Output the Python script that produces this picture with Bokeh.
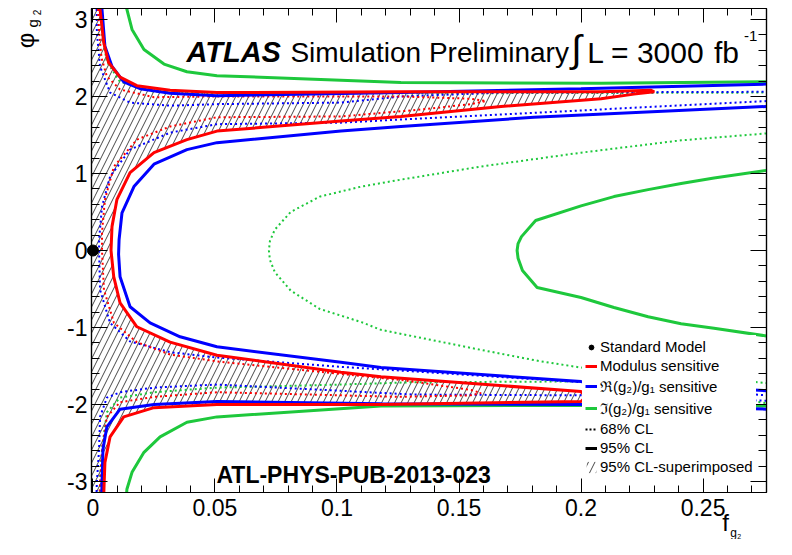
import math
from bokeh.plotting import figure
from bokeh.models import (Range1d, FixedTicker, LinearAxis, Label, Legend, LegendItem,
                          ColumnDataSource)
from bokeh.core.properties import value
from bokeh.embed import file_html
from bokeh.resources import INLINE

# ---------------- data ----------------
x_ticks = [0, 0.05, 0.1, 0.15, 0.2, 0.25]
x_tick_labels = ["0", "0.05", "0.1", "0.15", "0.2", "0.25"]
y_ticks = [-3, -2, -1, 0, 1, 2, 3]
y_tick_labels = ["-3", "-2", "-1", "0", "1", "2", "3"]

sm_x = [0.0]
sm_y = [0.0]

# Modulus sensitive, 95% CL (solid red)
red95_x = [0.0028, 0.0029, 0.0044, 0.0064, 0.0111, 0.0180, 0.0316, 0.0508, 0.1262, 0.2082, 0.2287, 0.2300,
           0.2217, 0.2082, 0.1672, 0.1262, 0.1016, 0.0508, 0.0385, 0.0250, 0.0152, 0.0098, 0.0078, 0.0074,
           0.0085, 0.0111, 0.0180, 0.0316, 0.0508, 0.1016, 0.1180, 0.2000, 0.2020, 0.2000, 0.1180, 0.0508,
           0.0250, 0.0126, 0.0070, 0.0049, 0.0045, 0.0044]
red95_y = [3.20, 3.13, 2.70, 2.44, 2.25, 2.14, 2.08, 2.05, 2.06, 2.06, 2.08, 2.06,
           2.03, 1.97, 1.87, 1.74, 1.68, 1.55, 1.44, 1.27, 1.01, 0.66, 0.31, 0.00,
           -0.34, -0.68, -0.99, -1.19, -1.36, -1.58, -1.64, -1.83, -1.90, -1.96, -2.00, -2.00,
           -2.04, -2.16, -2.42, -2.75, -3.10, -3.20]

# Modulus sensitive, 68% CL (dotted red)
red68_x = [0.0020, 0.0025, 0.0035, 0.0057, 0.0111, 0.0250, 0.0508, 0.1262, 0.1549, 0.1610, 0.1549, 0.1344,
           0.1016, 0.0508, 0.0316, 0.0180, 0.0086, 0.0049, 0.0037, 0.0037, 0.0045, 0.0086, 0.0180, 0.0316,
           0.0508, 0.0852, 0.1262, 0.1549, 0.1590, 0.1549, 0.1262, 0.0508, 0.0250, 0.0111, 0.0057, 0.0037,
           0.0029, 0.0027]
red68_y = [3.20, 2.85, 2.50, 2.26, 2.09, 1.99, 2.00, 2.00, 1.97, 1.94, 1.90, 1.83,
           1.74, 1.73, 1.61, 1.44, 1.09, 0.66, 0.23, 0.00, -0.51, -0.94, -1.19, -1.35,
           -1.44, -1.55, -1.68, -1.81, -1.85, -1.88, -1.90, -1.84, -1.90, -1.97, -2.16, -2.58,
           -3.04, -3.20]

# Re(g2)/g1 sensitive, 95% CL (solid blue)
blue95_top_x = [0.0036, 0.0037, 0.0049, 0.0078, 0.0126, 0.0193, 0.0316, 0.0508, 0.1262, 0.2000, 0.2760]
blue95_top_y = [3.20, 3.13, 2.65, 2.39, 2.19, 2.10, 2.04, 2.01, 2.05, 2.10, 2.16]
blue95_mid_x = [0.2760, 0.2357, 0.1807, 0.1262, 0.1016, 0.0508, 0.0385, 0.0250, 0.0168, 0.0119, 0.0107,
                0.0105, 0.0111, 0.0152, 0.0234, 0.0357, 0.0508, 0.1016, 0.1180, 0.2000, 0.2760]
blue95_mid_y = [1.87, 1.81, 1.73, 1.61, 1.55, 1.40, 1.31, 1.12, 0.83, 0.49, 0.14,
                -0.05, -0.34, -0.73, -0.94, -1.12, -1.25, -1.45, -1.52, -1.70, -1.82]
blue95_bot_x = [0.2760, 0.2000, 0.1180, 0.0508, 0.0250, 0.0111, 0.0057, 0.0041, 0.0037, 0.0036]
blue95_bot_y = [-2.06, -2.00, -1.99, -1.96, -2.00, -2.06, -2.29, -2.58, -3.01, -3.20]

# Re(g2)/g1 sensitive, 68% CL (dotted blue)
blue68_top_x = [0.0015, 0.0016, 0.0029, 0.0070, 0.0152, 0.0316, 0.0508, 0.1016, 0.1262, 0.1672, 0.2760]
blue68_top_y = [3.20, 2.83, 2.39, 2.05, 1.92, 1.88, 1.90, 1.92, 2.00, 2.05, 2.06]
blue68_mid_x = [0.2760, 0.1947, 0.1262, 0.1016, 0.0508, 0.0316, 0.0152, 0.0070, 0.0037, 0.0025, 0.0025,
                0.0029, 0.0070, 0.0152, 0.0316, 0.0508, 0.1016, 0.1316, 0.2000, 0.2760]
blue68_mid_y = [1.94, 1.81, 1.70, 1.66, 1.64, 1.53, 1.31, 0.96, 0.57, 0.14, 0.00,
                -0.51, -0.94, -1.18, -1.32, -1.39, -1.51, -1.57, -1.71, -1.88]
blue68_bot_x = [0.2760, 0.2000, 0.1316, 0.0508, 0.0250, 0.0111, 0.0057, 0.0029, 0.0025, 0.0016, 0.0014]
blue68_bot_y = [-1.95, -1.88, -1.87, -1.74, -1.78, -1.84, -1.91, -2.16, -2.58, -3.01, -3.20]

# Im(g2)/g1 sensitive, 95% CL (solid green)
green95_top_x = [0.0135, 0.0139, 0.0160, 0.0209, 0.0291, 0.0385, 0.0508, 0.1262, 0.2082, 0.2760]
green95_top_y = [3.20, 3.13, 2.87, 2.61, 2.42, 2.32, 2.27, 2.18, 2.17, 2.19]
green95_arc_x = [0.2760, 0.2545, 0.2410, 0.2275, 0.2135, 0.2000, 0.1814, 0.1756, 0.1742, 0.1738,
                 0.1742, 0.1760, 0.1820, 0.2000, 0.2135, 0.2275, 0.2410, 0.2545, 0.2760]
green95_arc_y = [1.04, 0.94, 0.87, 0.79, 0.70, 0.58, 0.39, 0.18, 0.09, 0.00,
                 -0.10, -0.26, -0.48, -0.61, -0.74, -0.86, -0.95, -1.01, -1.11]
green95_bot_x = [0.0137, 0.0139, 0.0160, 0.0209, 0.0275, 0.0385, 0.0508, 0.1180, 0.2000, 0.2760]
green95_bot_y = [-3.20, -3.10, -2.88, -2.62, -2.42, -2.23, -2.16, -2.02, -2.01, -2.02]

# Im(g2)/g1 sensitive, 68% CL (dotted green)
green68_top_x = [0.0028, 0.0029, 0.0037, 0.0057, 0.0111, 0.0250, 0.0508, 0.1262, 0.2760]
green68_top_y = [3.20, 3.13, 2.81, 2.45, 2.19, 2.06, 2.04, 2.04, 2.05]
green68_arc_x = [0.2760, 0.2410, 0.2000, 0.1590, 0.1262, 0.1100, 0.0930, 0.0810, 0.0745, 0.0725, 0.0721,
                 0.0725, 0.0745, 0.0810, 0.0930, 0.1100, 0.1180, 0.1590, 0.1836, 0.2000, 0.2760]
green68_arc_y = [1.52, 1.43, 1.27, 1.09, 0.92, 0.83, 0.70, 0.50, 0.27, 0.12, 0.00,
                 -0.12, -0.28, -0.52, -0.76, -0.93, -1.03, -1.29, -1.44, -1.52, -1.72]
green68_bot_x = [0.0028, 0.0029, 0.0037, 0.0057, 0.0111, 0.0250, 0.0508, 0.1016, 0.1316, 0.2000, 0.2760]
green68_bot_y = [-3.20, -2.97, -2.58, -2.10, -1.91, -1.84, -1.78, -1.74, -1.71, -1.70, -1.98]

RED = "#ff0000"
BLUE = "#0000ff"
GREEN = "#1ec83c"
FONT = "Liberation Sans"

# ---------------- figure ----------------
p = figure(width=776, height=539, output_backend="svg", toolbar_location=None,
           x_range=Range1d(-0.0006, 0.2760), y_range=Range1d(-math.pi, math.pi),
           min_border_left=91, min_border_right=10, min_border_top=8, min_border_bottom=47)
p.xgrid.visible = False
p.ygrid.visible = False
p.outline_line_color = "black"
p.outline_line_width = 1.2
p.background_fill_color = "white"
p.border_fill_color = "white"

x_minor = [round(0.01 * i, 2) for i in range(0, 28)]
y_minor = [round(-3.2 + 0.2 * i, 1) for i in range(0, 33)]
xt = FixedTicker(ticks=x_ticks, minor_ticks=x_minor)
yt = FixedTicker(ticks=y_ticks, minor_ticks=y_minor)


def style(ax, ticker, big, small, labels, show):
    ax.ticker = ticker
    ax.major_tick_in = big
    ax.major_tick_out = 0
    ax.minor_tick_in = small
    ax.minor_tick_out = 0
    ax.axis_line_color = "black"
    ax.axis_line_width = 1.2
    ax.major_tick_line_color = "black"
    ax.minor_tick_line_color = "black"
    ax.major_label_overrides = labels
    if show:
        ax.major_label_text_font = FONT
        ax.major_label_text_font_size = "23px"
        ax.major_label_text_color = "black"
    else:
        ax.major_label_text_font_size = "0px"
        ax.major_label_standoff = 0


style(p.xaxis[0], xt, 14, 7, {v: s for v, s in zip(x_ticks, x_tick_labels)}, True)
p.xaxis[0].major_label_standoff = 6
style(p.yaxis[0], yt, 16, 8, {v: s for v, s in zip(y_ticks, y_tick_labels)}, True)
p.yaxis[0].major_label_standoff = 4

top_ax = LinearAxis()
style(top_ax, xt, 14, 7, {v: "" for v in x_ticks}, False)
p.add_layout(top_ax, "above")
right_ax = LinearAxis()
style(right_ax, yt, 16, 8, {v: "" for v in y_ticks}, False)
p.add_layout(right_ax, "right")

# hatched 95% CL superimposed region (inside the modulus contour)
hatch_x = [-0.001] + red95_x + [-0.001]
hatch_y = [red95_y[0]] + red95_y + [red95_y[-1]]
hatch = p.patch(hatch_x, hatch_y, fill_alpha=0, line_alpha=0, hatch_pattern="/",
                hatch_color="black", hatch_scale=13, hatch_weight=0.8, hatch_alpha=0.9)

DOT = "2 3"
for xs, ys in [(green68_top_x, green68_top_y), (green68_arc_x, green68_arc_y), (green68_bot_x, green68_bot_y)]:
    p.line(xs, ys, line_color=GREEN, line_width=2, line_dash=DOT)
for xs, ys in [(blue68_top_x, blue68_top_y), (blue68_mid_x, blue68_mid_y), (blue68_bot_x, blue68_bot_y)]:
    p.line(xs, ys, line_color=BLUE, line_width=2, line_dash=DOT)
p.line(red68_x, red68_y, line_color=RED, line_width=2, line_dash=DOT)

g_r = None
for xs, ys in [(green95_top_x, green95_top_y), (green95_arc_x, green95_arc_y), (green95_bot_x, green95_bot_y)]:
    g_r = p.line(xs, ys, line_color=GREEN, line_width=3)
b_r = None
for xs, ys in [(blue95_top_x, blue95_top_y), (blue95_mid_x, blue95_mid_y), (blue95_bot_x, blue95_bot_y)]:
    b_r = p.line(xs, ys, line_color=BLUE, line_width=3)
r_r = p.line(red95_x, red95_y, line_color=RED, line_width=3)

sm = p.scatter(sm_x, sm_y, size=11, color="black", level="overlay")

# legend-only renderers (kept outside the visible ranges)
offscreen = ColumnDataSource(data=dict(x=[-1.0, -0.9], y=[-10.0, -10.0]))
cl68 = p.line("x", "y", source=offscreen, line_color="black", line_width=2, line_dash="2 2")
cl95 = p.line("x", "y", source=offscreen, line_color="black", line_width=3)

legend = Legend(items=[
    LegendItem(label="Standard Model", renderers=[sm]),
    LegendItem(label="Modulus sensitive", renderers=[r_r]),
    LegendItem(label="ℜ(g₂)/g₁ sensitive", renderers=[b_r]),
    LegendItem(label="ℑ(g₂)/g₁ sensitive", renderers=[g_r]),
    LegendItem(label="68% CL", renderers=[cl68]),
    LegendItem(label="95% CL", renderers=[cl95]),
    LegendItem(label="95% CL-superimposed", renderers=[hatch]),
], location=(491, 14), margin=0, padding=3, spacing=2, glyph_width=12, glyph_height=14,
    label_height=16, label_standoff=3, label_text_font=FONT, label_text_font_size="15px",
    label_text_color="black", background_fill_color="white", background_fill_alpha=1,
    border_line_alpha=0)
p.add_layout(legend)


def lab(x, y, text, size, style="normal"):
    p.add_layout(Label(x=x, y=y, text=text, text_font=FONT, text_font_size=size,
                       text_font_style=style, text_color="black",
                       text_align="left", text_baseline="alphabetic"))


lab(0.0383, 2.571, "ATLAS", "29px", "bold italic")
lab(0.0809, 2.571, "Simulation Preliminary", "28px")
lab(0.1960, 2.62, "∫", "38px")
lab(0.2025, 2.571, "L = 3000", "30px")
lab(0.2545, 2.571, "fb", "30px")
lab(0.2668, 2.79, "-1", "15px")
lab(0.0506, -2.909, "ATL-PHYS-PUB-2013-023", "23px", "bold")


def outside(x, y, text, size, angle):
    p.text(x=[x], y=[y], text=[text], angle=angle, text_font=value(FONT),
           text_font_size=value(size), text_color="black", text_align="center",
           text_baseline="middle", level="overlay")


# axis titles (drawn outside the frame)
outside(-0.0275, 2.727, "φ", "24px", math.pi / 2)
outside(-0.0246, 2.95, "g", "15px", math.pi / 2)
outside(-0.0230, 3.09, "2", "10px", math.pi / 2)
outside(0.2592, -3.53, "f", "24px", 0.0)
outside(0.2625, -3.665, "g", "12px", 0.0)
outside(0.2648, -3.715, "2", "7px", 0.0)

open("out.html", "w").write(file_html(p, INLINE))
